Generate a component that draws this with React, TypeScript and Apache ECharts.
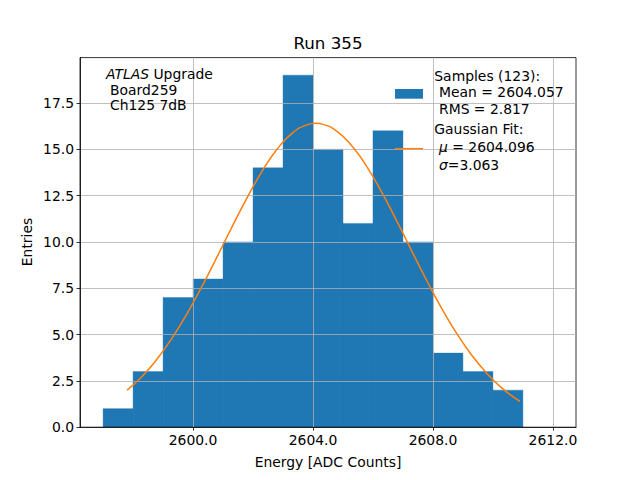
import React, { useEffect, useRef } from "react";
import * as echarts from "echarts";

// Histogram bins (left edge, right edge) and counts
const binStarts = [2597, 2598, 2599, 2600, 2601, 2602, 2603, 2604, 2605, 2606, 2607, 2608, 2609, 2610];
const binEnds = [2598, 2599, 2600, 2601, 2602, 2603, 2604, 2605, 2606, 2607, 2608, 2609, 2610, 2611];
const counts = [1, 3, 7, 8, 10, 14, 19, 15, 11, 16, 10, 4, 3, 2];

// Gaussian fit curve
const fitX = [2597.8, 2598.3, 2598.8, 2599.3, 2599.8, 2600.3, 2600.8, 2601.3, 2601.8, 2602.3, 2602.8, 2603.3, 2603.8, 2604.1, 2604.3, 2604.8, 2605.3, 2605.8, 2606.3, 2606.8, 2607.3, 2607.8, 2608.3, 2608.8, 2609.3, 2609.8, 2610.3, 2610.9];
const fitY = [2.0, 2.74, 3.68, 4.81, 6.13, 7.61, 9.19, 10.81, 12.38, 13.81, 15.0, 15.86, 16.32, 16.4, 16.36, 15.97, 15.18, 14.05, 12.66, 11.11, 9.49, 7.89, 6.39, 5.04, 3.87, 2.9, 2.11, 1.39];

const xTicks = [2600, 2604, 2608, 2612];
const yTicks = [0, 2.5, 5, 7.5, 10, 12.5, 15, 17.5];

const FONT = "DejaVu Sans";
const FS = 13.9;

export default function App() {
  const ref = useRef<HTMLDivElement>(null);
  useEffect(() => {
    if (!ref.current) return;
    const chart = echarts.init(ref.current, null, { renderer: "svg" });
    const histData = binStarts.map((s, i) => [s, binEnds[i], counts[i]]);
    const fitData = fitX.map((x, i) => [x, fitY[i]]);
    const t = (text: string, x: number, y: number, extra: any = {}) => ({
      type: "text",
      x,
      y,
      z: 100,
      style: {
        text,
        fontFamily: FONT,
        fontSize: FS,
        fill: "#000",
        textVerticalAlign: "middle",
        ...extra,
      },
    });
    chart.setOption({
      animation: false,
      backgroundColor: "#fff",
      textStyle: { fontFamily: FONT },
      grid: {
        left: 80,
        right: 64,
        top: 57.6,
        bottom: 52.8,
        show: true,
        borderColor: "#000",
        borderWidth: 0.8,
        backgroundColor: "transparent",
        z: 3,
      },
      xAxis: {
        type: "value",
        min: 2596.23,
        max: 2612.77,
        z: 3,
        axisLine: { show: true, lineStyle: { color: "#000", width: 0.8 } },
        axisTick: {
          show: true,
          inside: false,
          length: 3.5,
          lineStyle: { color: "#000", width: 0.8 },
          customValues: xTicks,
        },
        axisLabel: {
          customValues: xTicks,
          formatter: (v: number) => v.toFixed(1),
          color: "#000",
          fontFamily: FONT,
          fontSize: FS,
          margin: 6,
        },
        splitLine: { show: true, lineStyle: { color: "#b0b0b0", width: 0.8 } },
      },
      yAxis: {
        type: "value",
        min: 0,
        max: 19.95,
        z: 3,
        axisLine: { show: true, lineStyle: { color: "#000", width: 0.8 } },
        axisTick: {
          show: true,
          inside: false,
          length: 3.5,
          lineStyle: { color: "#000", width: 0.8 },
          customValues: yTicks,
        },
        axisLabel: {
          customValues: yTicks,
          formatter: (v: number) => v.toFixed(1),
          color: "#000",
          fontFamily: FONT,
          fontSize: FS,
          margin: 6,
        },
        splitLine: { show: true, lineStyle: { color: "#b0b0b0", width: 0.8 } },
      },
      series: [
        {
          type: "custom",
          z: 2,
          data: histData,
          encode: { x: [0, 1], y: 2 },
          renderItem: (params: any, api: any) => {
            const x0 = api.value(0);
            const x1 = api.value(1);
            const y = api.value(2);
            const p0 = api.coord([x0, y]);
            const p1 = api.coord([x1, 0]);
            return {
              type: "rect",
              shape: { x: p0[0], y: p0[1], width: p1[0] - p0[0], height: p1[1] - p0[1] },
              style: { fill: "#1f77b4", stroke: "#1f77b4", lineWidth: 0.4 },
            };
          },
        },
        {
          type: "line",
          z: 5,
          data: fitData,
          showSymbol: false,
          smooth: true,
          lineStyle: { color: "#ff7f0e", width: 1.5 },
        },
      ],
      graphic: [
        t("Run 355", 328, 43, { fontSize: 16.7, textAlign: "center" }),
        t("Energy [ADC Counts]", 328, 462, { textAlign: "center" }),
        {
          type: "text",
          x: 27,
          y: 242,
          rotation: Math.PI / 2,
          z: 100,
          style: {
            text: "Entries",
            fontFamily: FONT,
            fontSize: FS,
            fill: "#000",
            textAlign: "center",
            textVerticalAlign: "middle",
          },
        },
        t("{i|ATLAS} Upgrade", 106, 74, { rich: { i: { fontStyle: "italic", fontFamily: FONT, fontSize: FS } } }),
        t("Board259", 110, 89.5),
        t("Ch125 7dB", 110, 105),
        {
          type: "rect",
          z: 100,
          shape: { x: 395, y: 89, width: 28, height: 9.7 },
          style: { fill: "#1f77b4" },
        },
        {
          type: "line",
          z: 100,
          shape: { x1: 395, y1: 148.7, x2: 423, y2: 148.7 },
          style: { stroke: "#ff7f0e", lineWidth: 1.5 },
        },
        t("Samples (123):", 434.3, 75.7),
        t("Mean = 2604.057", 439, 92.3),
        t("RMS = 2.817", 439, 109.3),
        t("Gaussian Fit:", 434.3, 129.3),
        t("{i|μ} = 2604.096", 439, 147.3, { rich: { i: { fontStyle: "italic", fontFamily: FONT, fontSize: FS } } }),
        t("{i|σ}=3.063", 439, 164.7, { rich: { i: { fontStyle: "italic", fontFamily: FONT, fontSize: FS } } }),
      ],
    });
    return () => chart.dispose();
  }, []);
  return (
    <div
      ref={ref}
      style={{ position: "fixed", left: 0, top: 0, width: 640, height: 480 }}
    />
  );
}
